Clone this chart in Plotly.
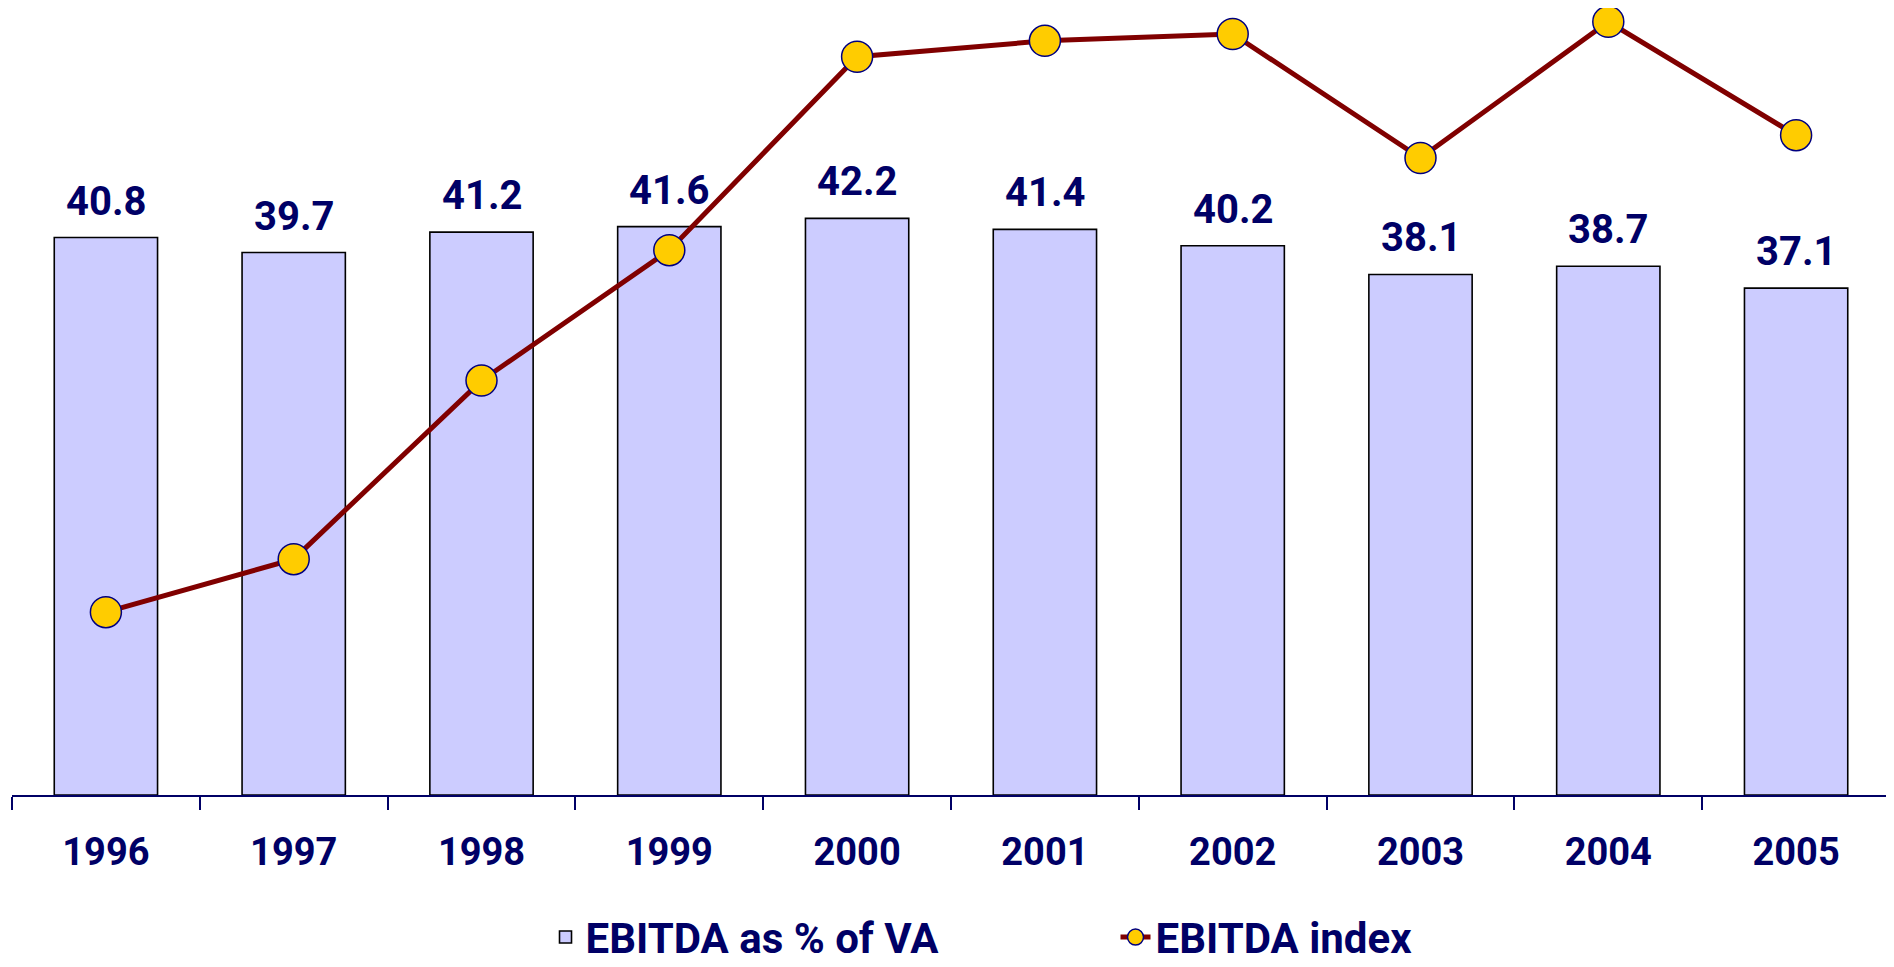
import plotly.graph_objects as go

years = ["1996", "1997", "1998", "1999", "2000", "2001", "2002", "2003", "2004", "2005"]
ebitda_pct_va = [40.8, 39.7, 41.2, 41.6, 42.2, 41.4, 40.2, 38.1, 38.7, 37.1]
ebitda_index = [100.0, 110.0, 143.7, 168.3, 204.8, 207.8, 209.1, 185.7, 211.4, 190.0]

NAVY = "#000066"
W, H = 1886, 959

fig = go.Figure()
fig.add_trace(go.Bar(
    x=years, y=ebitda_pct_va, name="EBITDA as % of VA",
    marker=dict(color="#CCCCFF", line=dict(color="black", width=1.6)),
))
fig.add_trace(go.Scatter(
    x=years, y=ebitda_index, name="EBITDA index", mode="lines+markers",
    line=dict(color="#800000", width=5),
    marker=dict(size=31, color="#FFCC00", line=dict(color="#000080", width=1.5)),
    yaxis="y2", cliponaxis=False,
))

for i, v in enumerate(ebitda_pct_va):
    fig.add_annotation(x=i, y=v, xref="x", yref="y", text=f"{v:.1f}",
                       showarrow=False, yanchor="bottom", yshift=11,
                       font=dict(family="Roboto", size=40, color=NAVY, weight="bold"))

fig.update_layout(
    width=W, height=H,
    margin=dict(l=4, r=4, t=0, b=172, autoexpand=False),
    paper_bgcolor="white", plot_bgcolor="white",
    bargap=0.45,
    showlegend=True,
    legend=dict(orientation="h", xref="container", x=0.285, xanchor="left",
                yref="container", y=0.031, yanchor="middle", entrywidth=525,
                font=dict(family="Roboto", size=42, color=NAVY, weight="bold")),
    xaxis=dict(type="category", categoryorder="array", categoryarray=years,
               range=[-0.5, 9.5], autorange=False, automargin=False,
               showline=True, linecolor=NAVY, linewidth=2, ticks="outside",
               tickson="boundaries", ticklen=13, tickcolor=NAVY, tickwidth=2,
               showgrid=False, tickangle=0, ticklabelstandoff=22,
               tickfont=dict(family="Roboto", size=38, color=NAVY, weight="bold")),
    yaxis=dict(range=[0, 57.6], autorange=False, automargin=False, visible=False,
               showgrid=False, zeroline=False),
    yaxis2=dict(range=[65.5, 214.0], autorange=False, automargin=False, overlaying="y",
                side="right", visible=False, showgrid=False, zeroline=False),
)

fig.write_html("out.html")
